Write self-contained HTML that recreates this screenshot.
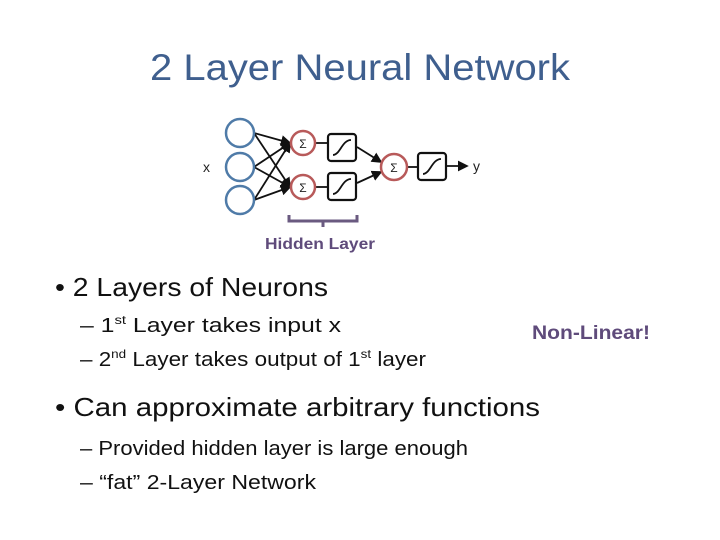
<!DOCTYPE html>
<html><head><meta charset="utf-8"><style>
html,body{margin:0;padding:0;background:#fff;width:720px;height:540px;overflow:hidden}
svg{display:block}
text{font-family:"Liberation Sans",sans-serif}
</style></head><body>
<svg width="720" height="540" viewBox="0 0 720 540" xmlns="http://www.w3.org/2000/svg">
<defs><marker id="ah" markerWidth="6" markerHeight="6" refX="5" refY="3" orient="auto"><path d="M0,0 L6,3 L0,6 z" fill="#111"/></marker></defs>
<text x="150" y="80" font-size="37" fill="#3f5f8e" textLength="420" lengthAdjust="spacingAndGlyphs">2 Layer Neural Network</text>
<g stroke="#111" stroke-width="1.8" fill="none">
<line x1="254" y1="133" x2="290" y2="143" marker-end="url(#ah)"/>
<line x1="254" y1="133" x2="290" y2="187" marker-end="url(#ah)"/>
<line x1="254" y1="167" x2="290" y2="143" marker-end="url(#ah)"/>
<line x1="254" y1="167" x2="290" y2="187" marker-end="url(#ah)"/>
<line x1="254" y1="200" x2="290" y2="143" marker-end="url(#ah)"/>
<line x1="254" y1="200" x2="290" y2="187" marker-end="url(#ah)"/>
<line x1="315" y1="143" x2="327" y2="143"/>
<line x1="315" y1="187" x2="327" y2="187"/>
<line x1="357" y1="147" x2="381" y2="162" marker-end="url(#ah)"/>
<line x1="357" y1="183" x2="381" y2="172" marker-end="url(#ah)"/>
<line x1="406" y1="167" x2="417" y2="167"/>
<line x1="447" y1="166" x2="467" y2="166" marker-end="url(#ah)"/>
</g>
<g stroke="#4f7ba8" stroke-width="2.5" fill="#fff">
<circle cx="240" cy="133" r="14"/><circle cx="240" cy="167" r="14"/><circle cx="240" cy="200" r="14"/>
</g>
<g stroke="#b85a5a" stroke-width="2.5" fill="#fff">
<circle cx="303" cy="143" r="12"/><circle cx="303" cy="187" r="12"/><circle cx="394" cy="167" r="13"/>
</g>
<g font-size="12" fill="#222" text-anchor="middle">
<text x="303" y="148">Σ</text><text x="303" y="192">Σ</text><text x="394" y="172">Σ</text>
</g>
<g stroke="#111" stroke-width="2.2" fill="#fff">
<rect x="328" y="134" width="28" height="27" rx="3"/>
<rect x="328" y="173" width="28" height="27" rx="3"/>
<rect x="418" y="153" width="28" height="27" rx="3"/>
</g>
<g stroke="#111" stroke-width="1.8" fill="none">
<path d="M333,155 C340,155 342,140 351,140"/>
<path d="M333,194 C340,194 342,179 351,179"/>
<path d="M423,174 C430,174 432,159 441,159"/>
</g>
<text x="203" y="172" font-size="14" fill="#222">x</text>
<text x="473" y="171" font-size="14" fill="#222">y</text>
<path d="M289,215 V221 H357 V215 M323,221 V227" stroke="#6a5a80" stroke-width="3" fill="none"/>
<text x="265" y="249" font-size="16" font-weight="bold" fill="#5f4b7b" textLength="110" lengthAdjust="spacingAndGlyphs">Hidden Layer</text>
<g fill="#111">
<text x="55" y="296" font-size="26" textLength="273" lengthAdjust="spacingAndGlyphs">• 2 Layers of Neurons</text>
<text x="80" y="332" font-size="20" textLength="261" lengthAdjust="spacingAndGlyphs">– 1<tspan font-size="12" dy="-8">st</tspan><tspan dy="8"> Layer takes input x</tspan></text>
<text x="80" y="366" font-size="20" textLength="346" lengthAdjust="spacingAndGlyphs">– 2<tspan font-size="12" dy="-8">nd</tspan><tspan dy="8"> Layer takes output of 1</tspan><tspan font-size="12" dy="-8">st</tspan><tspan dy="8"> layer</tspan></text>
<text x="55" y="416" font-size="26" textLength="485" lengthAdjust="spacingAndGlyphs">• Can approximate arbitrary functions</text>
<text x="80" y="455" font-size="20" textLength="388" lengthAdjust="spacingAndGlyphs">– Provided hidden layer is large enough</text>
<text x="80" y="489" font-size="20" textLength="236" lengthAdjust="spacingAndGlyphs">– “fat” 2-Layer Network</text>
</g>
<text x="532" y="339" font-size="19" font-weight="bold" fill="#5f4b7b" textLength="118" lengthAdjust="spacingAndGlyphs">Non-Linear!</text>
</svg>
</body></html>
